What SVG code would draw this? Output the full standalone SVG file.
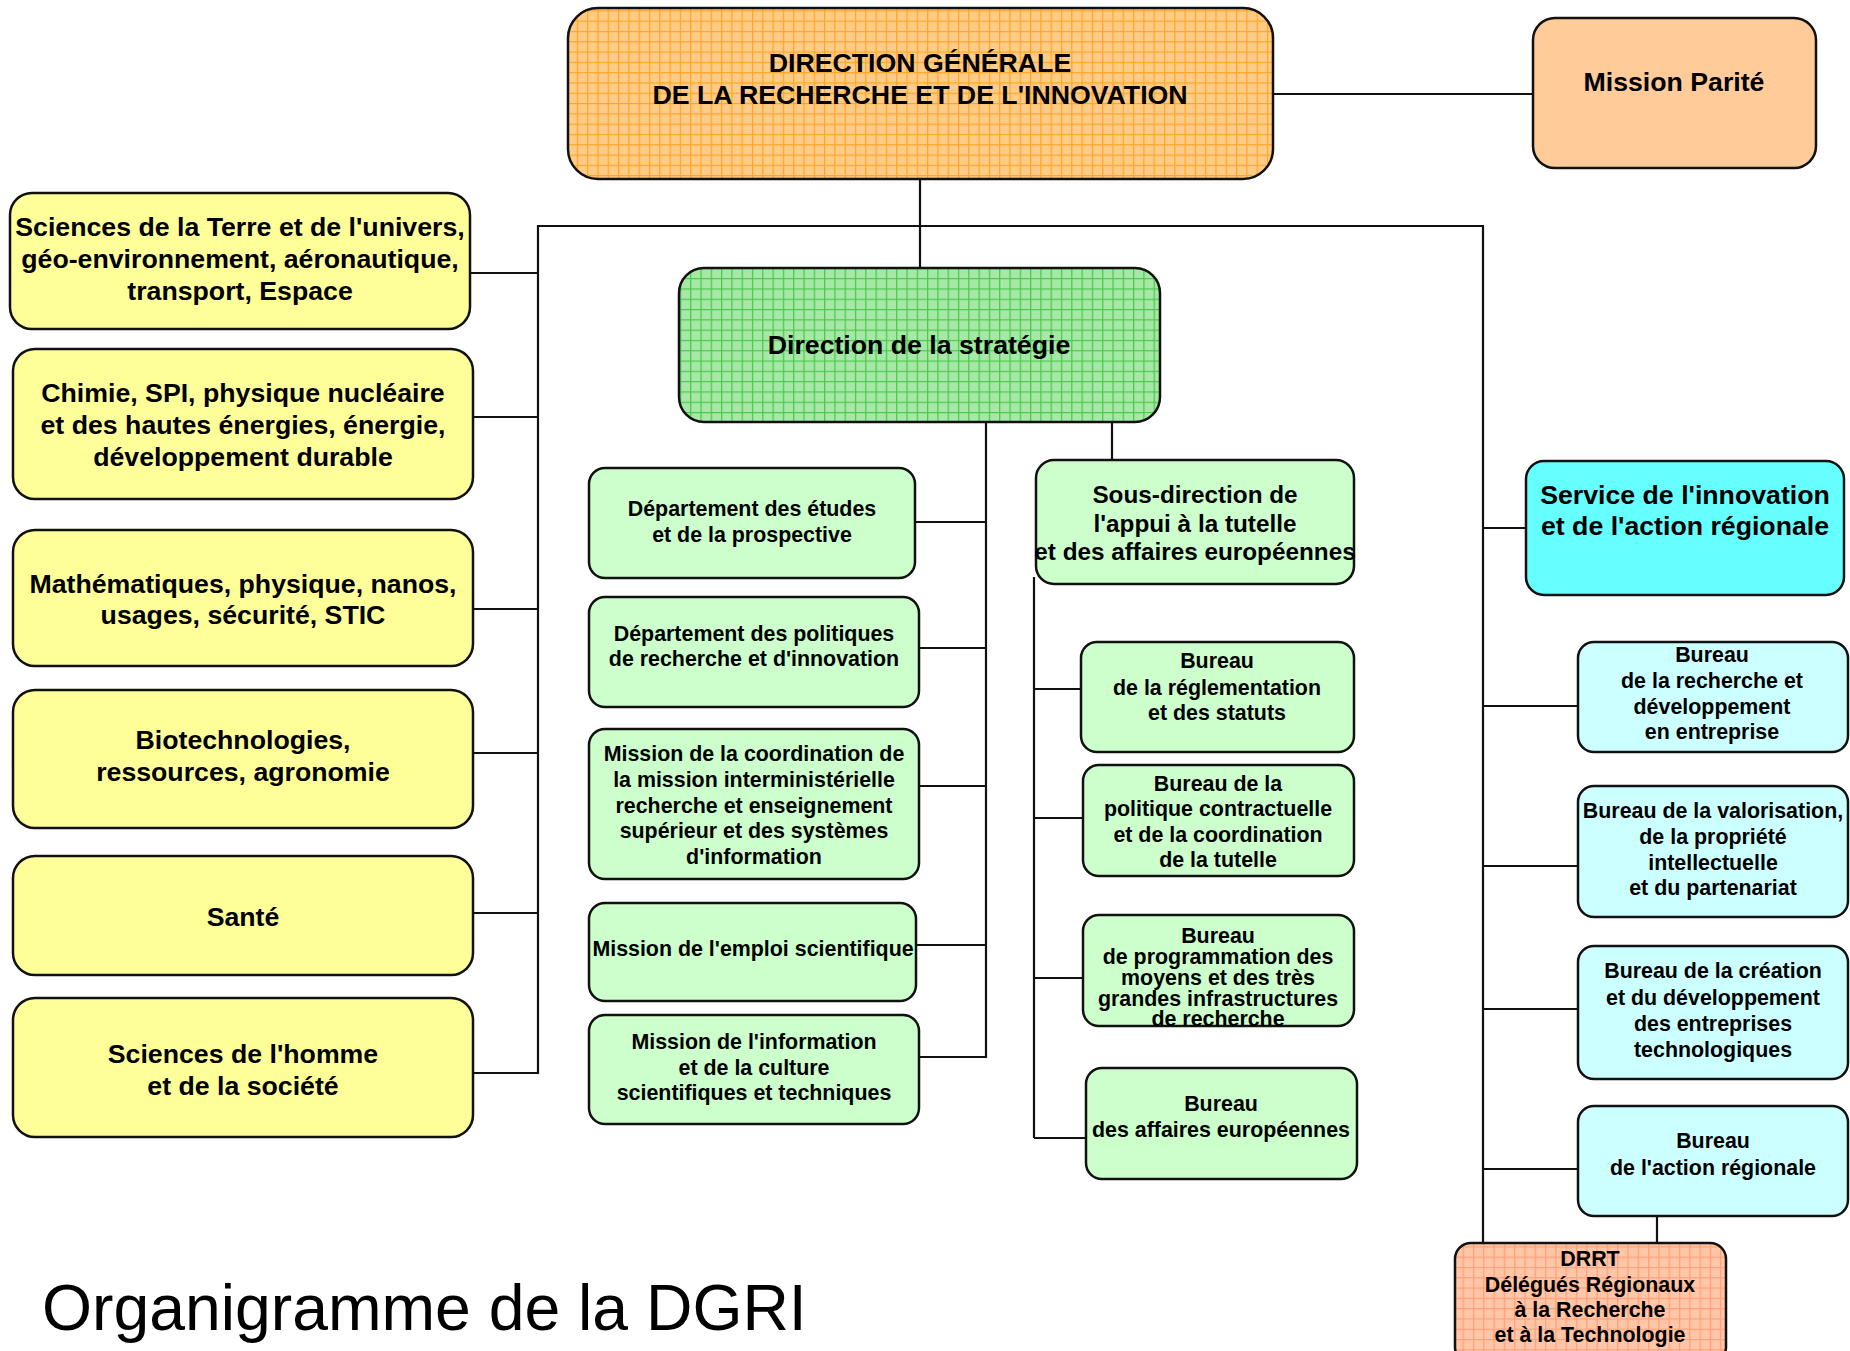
<svg xmlns="http://www.w3.org/2000/svg" width="1850" height="1351" viewBox="0 0 1850 1351">
<defs>
<pattern id="pOrange" width="10.3" height="10.3" patternUnits="userSpaceOnUse">
<rect width="10.3" height="10.3" fill="#FFCC88"/>
<path d="M0 0.6H10.3M0.6 0V10.3" stroke="#FFA522" stroke-width="1.3"/>
</pattern>
<pattern id="pGreen" width="10.3" height="10.3" patternUnits="userSpaceOnUse">
<rect width="10.3" height="10.3" fill="#A6E8A6"/>
<path d="M0 0.6H10.3M0.6 0V10.3" stroke="#4CC84C" stroke-width="1.3"/>
</pattern>
<pattern id="pSalmon" width="10.3" height="10.3" patternUnits="userSpaceOnUse">
<rect width="10.3" height="10.3" fill="#FFC6A8"/>
<path d="M0 0.6H10.3M0.6 0V10.3" stroke="#FFA078" stroke-width="1.3"/>
</pattern>
</defs>
<style>
.box{stroke:#111;stroke-width:2.5}
.y{fill:#FFFF99}
.g{fill:#CCFFCC}
.c{fill:#CCFFFF}
.t{font-family:"Liberation Sans",Arial,sans-serif;font-weight:bold;fill:#000;text-anchor:middle}
.f26{font-size:26.7px}
.f24{font-size:24.3px}
.f21{font-size:21.4px}
.ln{stroke:#111;stroke-width:2.2;fill:none}
</style>
<rect width="1850" height="1351" fill="#fff"/>

<g id="connectors">
<path class="ln" d="M1273 94H1533"/>
<path class="ln" d="M920 179V268"/>
<path class="ln" d="M538 1074V226H1483V1247"/>
<path class="ln" d="M470 273H538M473 417H538M473 609H538M473 753H538M473 913H538M473 1073H538"/>
<path class="ln" d="M986 422V1058"/>
<path class="ln" d="M914 522H986M918 648H986M918 786H986M916 945H986M918 1057H986"/>
<path class="ln" d="M1112 422V460"/>
<path class="ln" d="M1034 577V1138"/>
<path class="ln" d="M1034 689H1081M1034 818H1083M1034 978H1083M1034 1138H1086"/>
<path class="ln" d="M1483 528H1526M1483 706H1578M1483 866H1578M1483 1009H1578M1483 1169H1578"/>
<path class="ln" d="M1657 1216V1243"/>
</g>

<g id="dg">
<rect class="box" x="568" y="8" width="705" height="171" rx="30" fill="url(#pOrange)"/>
<text class="t f26" x="920" y="72">DIRECTION GÉNÉRALE</text>
<text class="t f26" x="920" y="104">DE LA RECHERCHE ET DE L'INNOVATION</text>
</g>

<g id="mission-parite">
<rect class="box" x="1533" y="18" width="283" height="150" rx="22" fill="#FFCC99"/>
<text class="t f26" x="1674" y="91">Mission Parité</text>
</g>

<g id="strategie">
<rect class="box" x="679" y="268" width="481" height="154" rx="25" fill="url(#pGreen)"/>
<text class="t f26" x="919" y="354">Direction de la stratégie</text>
</g>

<g id="y1">
<rect class="box y" x="10" y="193" width="460" height="136" rx="22"/>
<text class="t f26" x="240" y="236">Sciences de la Terre et de l'univers,</text>
<text class="t f26" x="240" y="268">géo-environnement, aéronautique,</text>
<text class="t f26" x="240" y="300">transport, Espace</text>
</g>
<g id="y2">
<rect class="box y" x="13" y="349" width="460" height="150" rx="22"/>
<text class="t f26" x="243" y="402">Chimie, SPI, physique nucléaire</text>
<text class="t f26" x="243" y="434">et des hautes énergies, énergie,</text>
<text class="t f26" x="243" y="466">développement durable</text>
</g>
<g id="y3">
<rect class="box y" x="13" y="530" width="460" height="136" rx="22"/>
<text class="t f26" x="243" y="593">Mathématiques, physique, nanos,</text>
<text class="t f26" x="243" y="624">usages, sécurité, STIC</text>
</g>
<g id="y4">
<rect class="box y" x="13" y="690" width="460" height="138" rx="22"/>
<text class="t f26" x="243" y="749">Biotechnologies,</text>
<text class="t f26" x="243" y="781">ressources, agronomie</text>
</g>
<g id="y5">
<rect class="box y" x="13" y="856" width="460" height="119" rx="22"/>
<text class="t f26" x="243" y="926">Santé</text>
</g>
<g id="y6">
<rect class="box y" x="13" y="998" width="460" height="139" rx="22"/>
<text class="t f26" x="243" y="1063">Sciences de l'homme</text>
<text class="t f26" x="243" y="1095">et de la société</text>
</g>

<g id="g1">
<rect class="box g" x="589" y="468" width="326" height="110" rx="16"/>
<text class="t f21" x="752" y="516">Département des études</text>
<text class="t f21" x="752" y="542">et de la prospective</text>
</g>
<g id="g2">
<rect class="box g" x="589" y="597" width="330" height="110" rx="16"/>
<text class="t f21" x="754" y="641">Département des politiques</text>
<text class="t f21" x="754" y="666">de recherche et d'innovation</text>
</g>
<g id="g3">
<rect class="box g" x="589" y="729" width="330" height="150" rx="16"/>
<text class="t f21" x="754" y="761">Mission de la coordination de</text>
<text class="t f21" x="754" y="787">la mission interministérielle</text>
<text class="t f21" x="754" y="813">recherche et enseignement</text>
<text class="t f21" x="754" y="838">supérieur et des systèmes</text>
<text class="t f21" x="754" y="864">d'information</text>
</g>
<g id="g4">
<rect class="box g" x="589" y="903" width="327" height="98" rx="16"/>
<text class="t f21" x="753" y="956">Mission de l'emploi scientifique</text>
</g>
<g id="g5">
<rect class="box g" x="589" y="1015" width="330" height="109" rx="16"/>
<text class="t f21" x="754" y="1049">Mission de l'information</text>
<text class="t f21" x="754" y="1075">et de la culture</text>
<text class="t f21" x="754" y="1100">scientifiques et techniques</text>
</g>

<g id="sous-direction">
<rect class="box g" x="1036" y="460" width="318" height="124" rx="18"/>
<text class="t f24" x="1195" y="503">Sous-direction de</text>
<text class="t f24" x="1195" y="532">l'appui à la tutelle</text>
<text class="t f24" x="1195" y="560">et des affaires européennes</text>
</g>
<g id="b1">
<rect class="box g" x="1081" y="642" width="273" height="110" rx="16"/>
<text class="t f21" x="1217" y="668">Bureau</text>
<text class="t f21" x="1217" y="695">de la réglementation</text>
<text class="t f21" x="1217" y="720">et des statuts</text>
</g>
<g id="b2">
<rect class="box g" x="1083" y="765" width="271" height="111" rx="16"/>
<text class="t f21" x="1218" y="791">Bureau de la</text>
<text class="t f21" x="1218" y="816">politique contractuelle</text>
<text class="t f21" x="1218" y="842">et de la coordination</text>
<text class="t f21" x="1218" y="867">de la tutelle</text>
</g>
<g id="b3">
<rect class="box g" x="1083" y="915" width="271" height="111" rx="16"/>
<text class="t f21" x="1218" y="943">Bureau</text>
<text class="t f21" x="1218" y="964">de programmation des</text>
<text class="t f21" x="1218" y="985">moyens et des très</text>
<text class="t f21" x="1218" y="1006">grandes infrastructures</text>
<text class="t f21" x="1218" y="1026">de recherche</text>
</g>
<g id="b4">
<rect class="box g" x="1086" y="1068" width="271" height="111" rx="16"/>
<text class="t f21" x="1221" y="1111">Bureau</text>
<text class="t f21" x="1221" y="1137">des affaires européennes</text>
</g>

<g id="service">
<rect class="box" x="1526" y="461" width="318" height="134" rx="18" fill="#66FFFF"/>
<text class="t f26" x="1685" y="504">Service de l'innovation</text>
<text class="t f26" x="1685" y="535">et de l'action régionale</text>
</g>
<g id="c1">
<rect class="box c" x="1578" y="642" width="270" height="110" rx="16"/>
<text class="t f21" x="1712" y="662">Bureau</text>
<text class="t f21" x="1712" y="688">de la recherche et</text>
<text class="t f21" x="1712" y="714">développement</text>
<text class="t f21" x="1712" y="739">en entreprise</text>
</g>
<g id="c2">
<rect class="box c" x="1578" y="786" width="270" height="131" rx="16"/>
<text class="t f21" x="1713" y="818">Bureau de la valorisation,</text>
<text class="t f21" x="1713" y="844">de la propriété</text>
<text class="t f21" x="1713" y="870">intellectuelle</text>
<text class="t f21" x="1713" y="895">et du partenariat</text>
</g>
<g id="c3">
<rect class="box c" x="1578" y="946" width="270" height="133" rx="16"/>
<text class="t f21" x="1713" y="978">Bureau de la création</text>
<text class="t f21" x="1713" y="1005">et du développement</text>
<text class="t f21" x="1713" y="1031">des entreprises</text>
<text class="t f21" x="1713" y="1057">technologiques</text>
</g>
<g id="c4">
<rect class="box c" x="1578" y="1106" width="270" height="110" rx="16"/>
<text class="t f21" x="1713" y="1148">Bureau</text>
<text class="t f21" x="1713" y="1175">de l'action régionale</text>
</g>
<g id="drrt">
<rect class="box" x="1455" y="1243" width="271" height="120" rx="16" fill="url(#pSalmon)"/>
<text class="t f21" x="1590" y="1266">DRRT</text>
<text class="t f21" x="1590" y="1292">Délégués Régionaux</text>
<text class="t f21" x="1590" y="1317">à la Recherche</text>
<text class="t f21" x="1590" y="1342">et à la Technologie</text>
</g>

<text id="title" x="42" y="1330" font-family="'Liberation Sans',Arial,sans-serif" font-size="64.3" fill="#000">Organigramme de la DGRI</text>
</svg>
